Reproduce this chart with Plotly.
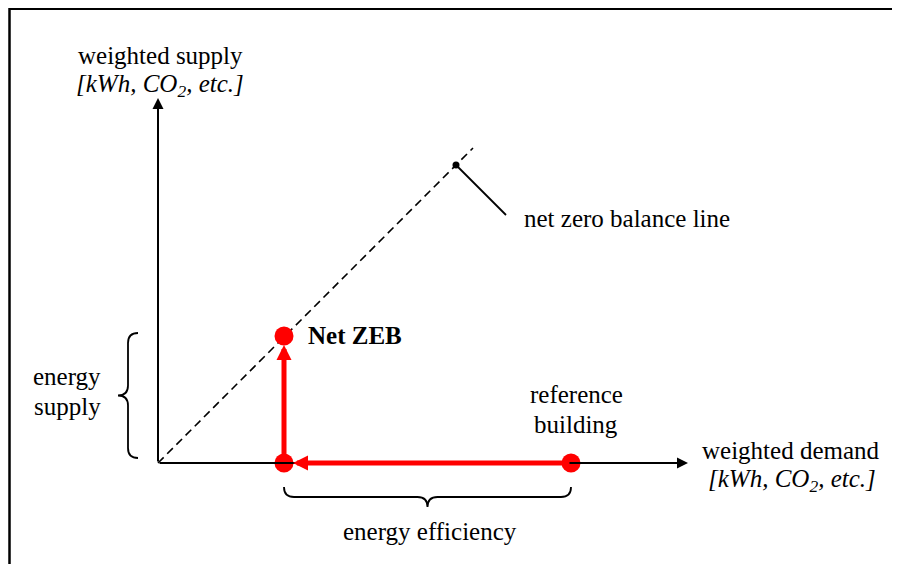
import plotly.graph_objects as go

# ---- data (diagram units: origin at the axis crossing) ----
reference_building = [413, 0]        # weighted demand, weighted supply
net_zeb = [126, 127]
efficiency_end = [126, 0]
balance_line_x = [0, 315]
balance_line_y = [0, 315]
balance_marker = [298, 298]
leader_end = [348, 248]
x_axis_end = 530
y_axis_end = 365

FONT = "Liberation Serif"
FS = 25
RED = "#ff0000"

fig = go.Figure()

# dashed net zero balance line
fig.add_trace(go.Scatter(x=balance_line_x, y=balance_line_y, mode="lines",
                         line=dict(color="black", width=1.6, dash="8px,5px"),
                         hoverinfo="skip", showlegend=False))
# leader line + dot
fig.add_trace(go.Scatter(x=[balance_marker[0], leader_end[0]],
                         y=[balance_marker[1], leader_end[1]], mode="lines",
                         line=dict(color="black", width=1.8),
                         hoverinfo="skip", showlegend=False))
fig.add_trace(go.Scatter(x=[balance_marker[0]], y=[balance_marker[1]], mode="markers",
                         marker=dict(color="black", size=7),
                         hoverinfo="skip", showlegend=False))

annotations = []
# axes arrows
annotations.append(dict(x=x_axis_end, y=0, ax=0, ay=0, xref="x", yref="y", axref="x", ayref="y",
                        text="", showarrow=True, arrowhead=2, arrowsize=1.1, arrowwidth=2,
                        arrowcolor="black"))
annotations.append(dict(x=0, y=y_axis_end, ax=0, ay=0, xref="x", yref="y", axref="x", ayref="y",
                        text="", showarrow=True, arrowhead=2, arrowsize=1.1, arrowwidth=2,
                        arrowcolor="black"))
# red arrows
annotations.append(dict(x=efficiency_end[0] + 9, y=0, ax=reference_building[0], ay=0,
                        xref="x", yref="y", axref="x", ayref="y",
                        text="", showarrow=True, arrowhead=2, arrowsize=0.6, arrowwidth=5,
                        arrowcolor=RED))
annotations.append(dict(x=net_zeb[0], y=net_zeb[1] - 9, ax=efficiency_end[0], ay=0,
                        xref="x", yref="y", axref="x", ayref="y",
                        text="", showarrow=True, arrowhead=2, arrowsize=0.6, arrowwidth=5,
                        arrowcolor=RED))

# red points
fig.add_trace(go.Scatter(x=[efficiency_end[0], reference_building[0], net_zeb[0]],
                         y=[efficiency_end[1], reference_building[1], net_zeb[1]],
                         mode="markers", marker=dict(color=RED, size=19),
                         hoverinfo="skip", showlegend=False))

def txt(x, y, s, anchor="center"):
    annotations.append(dict(x=x, y=y, xref="x", yref="y", text=s, showarrow=False,
                            xanchor=anchor, yanchor="middle",
                            font=dict(family=FONT, size=FS, color="black")))

unit = "<i>[kWh, CO<sub>2</sub>, etc.]</i>"
txt(2, 408, "weighted supply")
txt(2, 378, unit)
txt(633, 13, "weighted demand")
txt(634, -17, unit)
txt(364, 245, "net zero balance line", anchor="left")
txt(148, 128, "<b>Net ZEB</b>", anchor="left")
txt(418, 69, "reference")
txt(418, 39, "building")
txt(-91, 87, "energy")
txt(-91, 57, "supply")
txt(272, -68, "energy efficiency")

# curly braces (path in data coords)
def vbrace(xe, y0, y1, d):
    ym = (y0 + y1) / 2
    xv = xe - d / 2
    xt = xe - d
    r = d / 2
    return (f"M {xe},{y1} Q {xv},{y1} {xv},{y1 - r} L {xv},{ym + r} "
            f"Q {xv},{ym} {xt},{ym} Q {xv},{ym} {xv},{ym - r} "
            f"L {xv},{y0 + r} Q {xv},{y0} {xe},{y0}")

def hbrace(ye, x0, x1, d):
    xm = (x0 + x1) / 2
    yv = ye - d / 2
    yt = ye - d
    r = d / 2
    return (f"M {x0},{ye} Q {x0},{yv} {x0 + r},{yv} L {xm - r},{yv} "
            f"Q {xm},{yv} {xm},{yt} Q {xm},{yv} {xm + r},{yv} "
            f"L {x1 - r},{yv} Q {x1},{yv} {x1},{ye}")

W, H = 892, 556
shapes = [
    dict(type="path", xref="x", yref="y", path=vbrace(-20, 5, 130, 20),
         line=dict(color="black", width=1.8)),
    dict(type="path", xref="x", yref="y", path=hbrace(-24, efficiency_end[0], reference_building[0], 20),
         line=dict(color="black", width=1.8)),
    dict(type="rect", xref="paper", yref="paper", x0=1.5 / W, x1=1.05,
         y0=-0.05, y1=1 - 0.8 / H, line=dict(color="black", width=2.5)),
]

fig.update_layout(
    width=W, height=H, margin=dict(l=0, r=0, t=0, b=0),
    paper_bgcolor="white", plot_bgcolor="white",
    xaxis=dict(range=[-150, 742], visible=False, fixedrange=True),
    yaxis=dict(range=[-101, 455], visible=False, fixedrange=True),
    annotations=annotations, shapes=shapes, showlegend=False,
)

fig.write_html("out.html")
